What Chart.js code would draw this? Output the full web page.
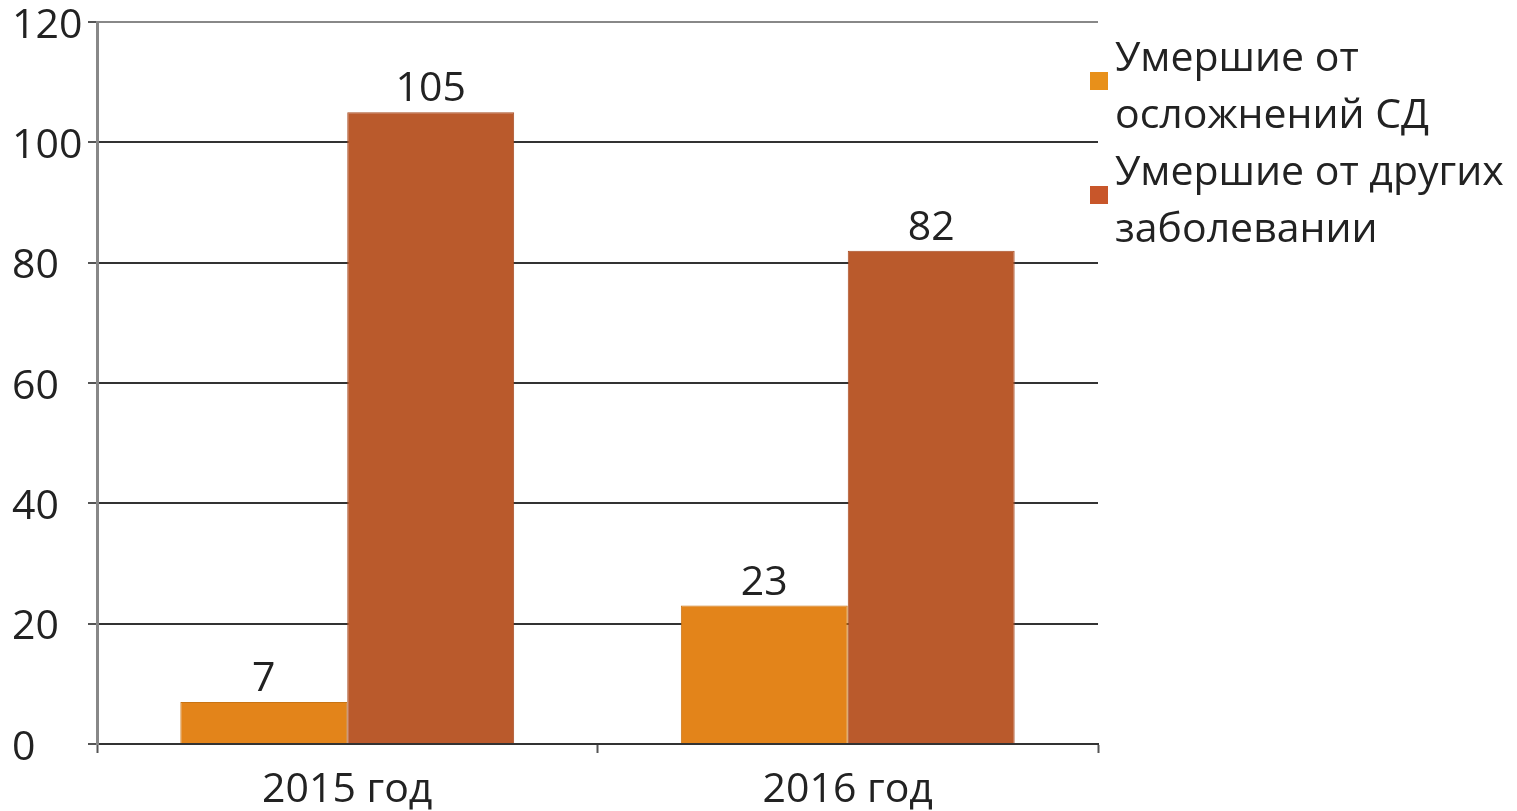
<!DOCTYPE html>
<html lang="ru">
<head>
<meta charset="utf-8">
<title>Умершие</title>
<script src="https://cdn.jsdelivr.net/npm/chart.js@4/dist/chart.umd.min.js"></script>
<style>
  body { margin: 0; background: #fff; }
  .wrap { position: relative; width: 1517px; height: 811px; overflow: hidden; }
  .legend { position: absolute; left: 1088px; top: 27px; font-family: "Open Sans", sans-serif; font-size: 41px; line-height: 57px; color: #222; }
  .legend .item { position: relative; padding-left: 27px; width: 420px; }
  .legend .box { position: absolute; left: 2px; top: 45px; width: 18px; height: 18px; }
</style>
</head>
<body>
<div class="wrap">
  <canvas id="chart" width="1517" height="811"></canvas>
  <div class="legend" id="legend"></div>
</div>
<script>
const categories = ['2015 год', '2016 год'];
const seriesNames = ['Умершие от осложнений СД', 'Умершие от других заболевании'];
const legendLines = [['Умершие от', 'осложнений СД'], ['Умершие от других', 'заболевании']];
const complications = [7, 23];
const otherDiseases = [105, 82];
const yTicks = [0, 20, 40, 60, 80, 100, 120];

const barColors = ['#E3841A', '#BA5A2C'];
const legendColors = ['#E8901A', '#C8562A'];
const font = { family: '"Open Sans", sans-serif', size: 41, lineHeight: 1.0 };
const yFont = { family: '"Open Sans", sans-serif', size: 41, lineHeight: 0.9 };

// value labels above each bar
const valueLabels = {
    id: 'valueLabels',
    afterDatasetsDraw(chart) {
        const ctx = chart.ctx;
        ctx.save();
        ctx.font = '41px "Open Sans", sans-serif';
        ctx.fillStyle = '#222';
        ctx.textAlign = 'center';
        ctx.textBaseline = 'alphabetic';
        chart.data.datasets.forEach((ds, i) => {
            chart.getDatasetMeta(i).data.forEach((bar, j) => {
                ctx.fillText(String(ds.data[j]), bar.x, bar.y - 11);
            });
        });
        ctx.restore();
    }
};

new Chart(document.getElementById('chart'), {
    type: 'bar',
    data: {
        labels: categories,
        datasets: [{
            label: seriesNames[0],
            data: complications,
            backgroundColor: barColors[0],
            borderColor: '#C87414',
            borderWidth: 1
        },
        {
            label: seriesNames[1],
            data: otherDiseases,
            backgroundColor: barColors[1],
            borderColor: '#A84E25',
            borderWidth: 1
        }]
    },
    options: {
        responsive: false,
        animation: false,
        categoryPercentage: 0.667,
        barPercentage: 1.0,
        layout: {
            padding: { left: 12, right: 419, top: 22, bottom: 0 }
        },
        scales: {
            x: {
                afterFit: (scale) => { scale.height = 67; },
                grid: {
                    drawOnChartArea: false,
                    drawTicks: true,
                    tickLength: 9,
                    tickWidth: 2,
                    tickColor: '#555'
                },
                border: { display: true, color: '#333', width: 2 },
                ticks: { color: '#222', font: font, padding: 17 }
            },
            y: {
                min: 0,
                max: 120,
                afterFit: (scale) => { scale.width = 85; },
                afterBuildTicks: (scale) => { scale.ticks = yTicks.map(v => ({ value: v })); },
                grid: {
                    color: (c) => c.tick && c.tick.value === 120 ? '#888' : '#333',
                    lineWidth: 2,
                    tickLength: 9,
                    tickColor: '#555'
                },
                border: { display: true, color: '#888', width: 3 },
                ticks: { color: '#222', font: yFont, padding: 0, crossAlign: 'far', labelOffset: 4 }
            }
        },
        plugins: {
            legend: { display: false },
            tooltip: { enabled: false }
        }
    },
    plugins: [valueLabels]
});

// legend with wrapped labels
const legendEl = document.getElementById('legend');
legendLines.forEach((lines, i) => {
    const item = document.createElement('div');
    item.className = 'item';
    const box = document.createElement('span');
    box.className = 'box';
    box.style.background = legendColors[i];
    item.appendChild(box);
    lines.forEach(t => {
        const line = document.createElement('div');
        line.textContent = t;
        item.appendChild(line);
    });
    legendEl.appendChild(item);
});
</script>
</body>
</html>
